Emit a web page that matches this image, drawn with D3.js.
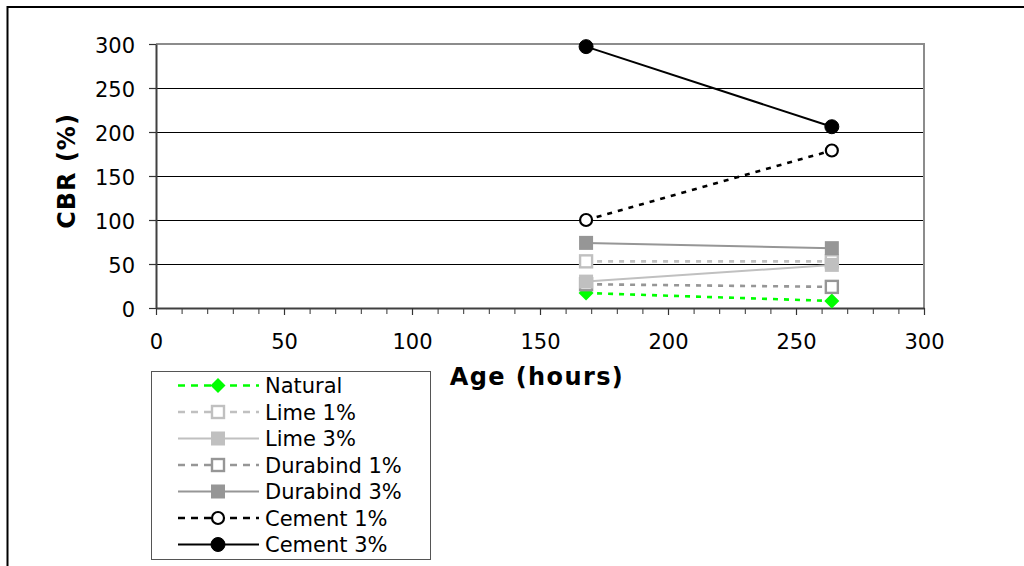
<!DOCTYPE html>
<html>
<head>
<meta charset="utf-8">
<script src="https://cdn.jsdelivr.net/npm/d3@7"></script>
<style>
  html, body { margin: 0; padding: 0; background: #fff; }
  svg { display: block; }
  text { font-family: "DejaVu Sans", Verdana, sans-serif; fill: #000; }
</style>
</head>
<body>
<svg id="chart" width="1024" height="566"></svg>
<script>
// CBR development with curing age for natural and stabilised soil
const ages = [168, 264];
const natural     = [17, 8];
const lime1       = [53, 53];
const lime3       = [30, 49];
const durabind1   = [27, 24];
const durabind3   = [74, 68];
const cement1     = [100, 179];
const cement3     = [297, 206];
const seriesNames = ["Natural", "Lime 1%", "Lime 3%", "Durabind 1%", "Durabind 3%", "Cement 1%", "Cement 3%"];
const xTicks = [0, 50, 100, 150, 200, 250, 300];
const yTicks = [0, 50, 100, 150, 200, 250, 300];
const xTitle = "Age (hours)";
const yTitle = "CBR (%)";

const series = [
  { name: seriesNames[0], values: natural,   color: "#00ff00", dash: "5,6", marker: "diamond", fill: "#00ff00" },
  { name: seriesNames[1], values: lime1,     color: "#c0c0c0", dash: "5,6", marker: "square",  fill: "#ffffff" },
  { name: seriesNames[2], values: lime3,     color: "#c0c0c0", dash: null,  marker: "square",  fill: "#c0c0c0" },
  { name: seriesNames[3], values: durabind1, color: "#969696", dash: "5,6", marker: "square",  fill: "#ffffff" },
  { name: seriesNames[4], values: durabind3, color: "#969696", dash: null,  marker: "square",  fill: "#969696" },
  { name: seriesNames[5], values: cement1,   color: "#000000", dash: "5,6", marker: "circle",  fill: "#ffffff" },
  { name: seriesNames[6], values: cement3,   color: "#000000", dash: null,  marker: "circle",  fill: "#000000" }
];
// marks stacking order inside the plot
const drawOrder = [0, 1, 3, 2, 4, 5, 6];

const svg = d3.select("#chart");

// outer frame
svg.append("rect")
  .attr("x", 7.5).attr("y", 7).attr("width", 1100).attr("height", 1000)
  .attr("fill", "none").attr("stroke", "#000").attr("stroke-width", 2);

const x = d3.scaleLinear().domain([0, 300]).range([156, 924]);
const y = d3.scaleLinear().domain([0, 300]).range([308, 44]);

// horizontal gridlines
svg.append("g").selectAll("line")
  .data(yTicks.filter(t => t > 0 && t < 300))
  .join("line")
  .attr("x1", x(0)).attr("x2", x(300))
  .attr("y1", d => y(d)).attr("y2", d => y(d))
  .attr("stroke", "#000").attr("stroke-width", 1).attr("shape-rendering", "crispEdges");

// plot area border (top and right)
svg.append("path")
  .attr("d", `M${x(0)},${y(300)}H${x(300)}V${y(0)}`)
  .attr("fill", "none").attr("stroke", "#8c8c8c").attr("stroke-width", 2);

// x axis: minor ticks every 10 h, labelled majors every 50 h
const xMinor = d3.axisBottom(x).tickValues(d3.range(0, 301, 10)).tickSize(6).tickFormat("");
const gxm = svg.append("g").attr("transform", `translate(0,${y(0)})`).call(xMinor);
gxm.select(".domain").remove();
gxm.selectAll("line").attr("stroke", "#333").attr("stroke-width", 1);

const xAxis = d3.axisBottom(x).tickValues(xTicks).tickSize(7).tickSizeOuter(0).tickPadding(19);
const gx = svg.append("g").attr("transform", `translate(0,${y(0)})`).call(xAxis);
gx.select(".domain").attr("stroke", "#404040").attr("stroke-width", 2);
gx.selectAll("line").attr("stroke", "#333").attr("stroke-width", 1.2);
gx.selectAll("text")
  .style("font-family", "'DejaVu Sans', Verdana, sans-serif")
  .style("font-size", "21px").attr("fill", "#000");

const yAxis = d3.axisLeft(y).tickValues(yTicks).tickSize(7).tickSizeOuter(0).tickPadding(14);
const gy = svg.append("g").attr("transform", `translate(${x(0)},0)`).call(yAxis);
gy.select(".domain").attr("stroke", "#404040").attr("stroke-width", 2);
gy.selectAll("line").attr("stroke", "#333").attr("stroke-width", 1.2);
gy.selectAll("text")
  .style("font-family", "'DejaVu Sans', Verdana, sans-serif")
  .style("font-size", "21px").attr("fill", "#000")
  .attr("dy", "0.4em");

// axis titles
svg.append("text")
  .attr("x", 537).attr("y", 385)
  .attr("text-anchor", "middle")
  .style("font-size", "24px").style("font-weight", "bold").style("letter-spacing", "1.4px")
  .text(xTitle);

svg.append("text")
  .attr("transform", "translate(75,171) rotate(-90)")
  .attr("text-anchor", "middle")
  .style("font-size", "24px").style("font-weight", "bold").style("letter-spacing", "1px")
  .text(yTitle);

// marker drawing helper
function drawMarker(g, s, cx, cy) {
  if (s.marker === "circle") {
    const filled = s.fill === s.color;
    g.append("circle").attr("cx", cx).attr("cy", cy)
      .attr("r", filled ? 7 : 6)
      .attr("fill", s.fill).attr("stroke", s.color).attr("stroke-width", filled ? 1 : 2.2);
  } else if (s.marker === "square") {
    const open = s.fill !== s.color;
    const h = open ? 6 : 7;
    g.append("rect").attr("x", cx - h).attr("y", cy - h)
      .attr("width", 2 * h).attr("height", 2 * h)
      .attr("fill", s.fill).attr("stroke", s.color).attr("stroke-width", open ? 2.4 : 0);
  } else {
    const h = 7.5;
    g.append("path")
      .attr("d", `M${cx},${cy - h}L${cx + h},${cy}L${cx},${cy + h}L${cx - h},${cy}Z`)
      .attr("fill", s.fill).attr("stroke", "none");
  }
}

const line = d3.line().x((d, i) => x(ages[i])).y(d => y(d));

const plot = svg.append("g");
drawOrder.forEach(k => {
  const s = series[k];
  const g = plot.append("g");
  g.append("path")
    .attr("d", line(s.values))
    .attr("fill", "none").attr("stroke", s.color)
    .attr("stroke-width", s.dash ? 2.6 : 2)
    .attr("stroke-dasharray", s.dash);
  s.values.forEach((v, i) => drawMarker(g, s, x(ages[i]), y(v)));
});

// legend
const legend = svg.append("g");
legend.append("rect")
  .attr("x", 151.5).attr("y", 371.5).attr("width", 279).attr("height", 188)
  .attr("fill", "#fff").attr("stroke", "#555").attr("stroke-width", 1);

const rowY = d3.scalePoint().domain(seriesNames).range([385.5, 544.5]);
series.forEach(s => {
  const cy = rowY(s.name);
  const g = legend.append("g");
  g.append("line")
    .attr("x1", 178).attr("x2", 259).attr("y1", cy).attr("y2", cy)
    .attr("stroke", s.color).attr("stroke-width", s.dash ? 2.6 : 2)
    .attr("stroke-dasharray", s.dash ? "7,6" : null);
  drawMarker(g, s, 218, cy);
  g.append("text")
    .attr("x", 265).attr("y", cy + 7.5)
    .style("font-size", "21px")
    .text(s.name);
});
</script>
</body>
</html>
